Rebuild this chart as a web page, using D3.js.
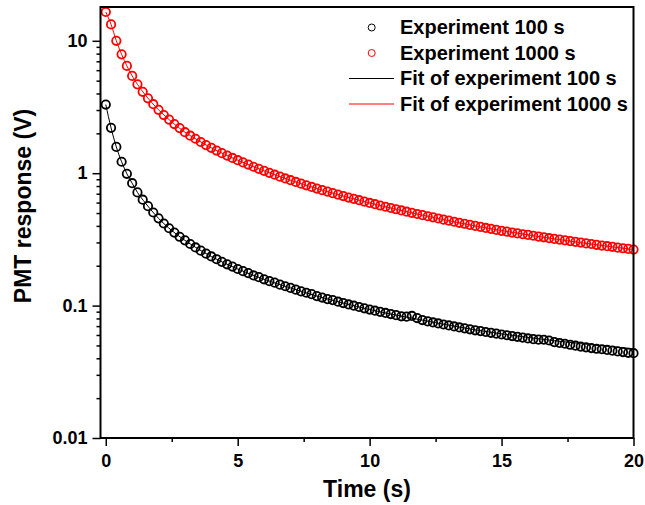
<!DOCTYPE html>
<html>
<head>
<meta charset="utf-8">
<script src="https://cdn.jsdelivr.net/npm/d3@7"></script>
<style>
  html, body { margin: 0; padding: 0; background: #fff; }
  svg text { font-family: "Liberation Sans", Arial, sans-serif; font-weight: bold; fill: #000; }
</style>
</head>
<body>
<svg id="chart" width="645" height="505"></svg>
<script>
// ---- data ----
const time = [
  0.0, 0.2, 0.4, 0.6, 0.8, 1.0, 1.2, 1.4, 1.6, 1.8,
  2.0, 2.2, 2.4, 2.6, 2.8, 3.0, 3.2, 3.4, 3.6, 3.8,
  4.0, 4.2, 4.4, 4.6, 4.8, 5.0, 5.2, 5.4, 5.6, 5.8,
  6.0, 6.2, 6.4, 6.6, 6.8, 7.0, 7.2, 7.4, 7.6, 7.8,
  8.0, 8.2, 8.4, 8.6, 8.8, 9.0, 9.2, 9.4, 9.6, 9.8,
  10.0, 10.2, 10.4, 10.6, 10.8, 11.0, 11.2, 11.4, 11.6, 11.8,
  12.0, 12.2, 12.4, 12.6, 12.8, 13.0, 13.2, 13.4, 13.6, 13.8,
  14.0, 14.2, 14.4, 14.6, 14.8, 15.0, 15.2, 15.4, 15.6, 15.8,
  16.0, 16.2, 16.4, 16.6, 16.8, 17.0, 17.2, 17.4, 17.6, 17.8,
  18.0, 18.2, 18.4, 18.6, 18.8, 19.0, 19.2, 19.4, 19.6, 19.8,
  20.0
];
const exp100 = [
  3.30, 2.20, 1.58, 1.22, 0.99, 0.84, 0.716, 0.631, 0.564, 0.505,
  0.456, 0.417, 0.384, 0.356, 0.331, 0.311, 0.292, 0.275, 0.260, 0.247,
  0.235, 0.224, 0.214, 0.205, 0.197, 0.189, 0.182, 0.176, 0.169, 0.164,
  0.158, 0.153, 0.149, 0.144, 0.140, 0.136, 0.132, 0.128, 0.125, 0.122,
  0.118, 0.115, 0.112, 0.110, 0.107, 0.1045, 0.102, 0.0998, 0.0976, 0.0954,
  0.0934, 0.0915, 0.0897, 0.0880, 0.0863, 0.0847, 0.0830, 0.0825, 0.0835, 0.0805,
  0.0778, 0.0760, 0.0746, 0.0733, 0.0720, 0.0708, 0.0696, 0.0684, 0.0673, 0.0662,
  0.0651, 0.0642, 0.0632, 0.0623, 0.0614, 0.0605, 0.0597, 0.0589, 0.0581, 0.0573,
  0.0565, 0.0558, 0.0553, 0.0552, 0.0545, 0.0530, 0.0522, 0.0515, 0.0506, 0.0498,
  0.0490, 0.0484, 0.0478, 0.0472, 0.0468, 0.0463, 0.0457, 0.0451, 0.0446, 0.0440,
  0.0437
];
const exp1000 = [
  16.5, 13.3, 10.0, 7.90, 6.46, 5.43, 4.69, 4.12, 3.68, 3.32,
  3.01, 2.75, 2.54, 2.35, 2.19, 2.04, 1.92, 1.82, 1.72, 1.63,
  1.555, 1.483, 1.417, 1.358, 1.304, 1.254, 1.207, 1.162, 1.119, 1.079,
  1.042, 1.007, 0.974, 0.942, 0.913, 0.885, 0.859, 0.834, 0.810, 0.787,
  0.766, 0.745, 0.726, 0.707, 0.689, 0.672, 0.655, 0.640, 0.625, 0.610,
  0.596, 0.583, 0.570, 0.558, 0.546, 0.534, 0.523, 0.512, 0.502, 0.492,
  0.482, 0.473, 0.464, 0.455, 0.446, 0.438, 0.430, 0.422, 0.415, 0.407,
  0.400, 0.393, 0.386, 0.380, 0.373, 0.367, 0.362, 0.356, 0.351, 0.346,
  0.342, 0.337, 0.332, 0.328, 0.323, 0.319, 0.315, 0.311, 0.307, 0.303,
  0.299, 0.295, 0.292, 0.288, 0.284, 0.281, 0.278, 0.274, 0.271, 0.268,
  0.265
];
const fitTime = [0, 0.2, 0.4, 0.6, 0.8, 1, 1.2, 1.5, 2, 2.5, 3, 3.5, 4, 5, 6, 7, 8, 9, 10, 12, 14, 16, 18, 20];
const fit100 = [3.30, 2.20, 1.58, 1.22, 0.99, 0.84, 0.716, 0.596, 0.456, 0.369, 0.311, 0.268, 0.235, 0.189, 0.158, 0.136, 0.118, 0.1045, 0.0934, 0.0776, 0.0656, 0.0575, 0.0516, 0.0472];
const fit1000 = [16.5, 13.3, 10.0, 7.90, 6.46, 5.43, 4.69, 3.90, 3.01, 2.44, 2.04, 1.77, 1.555, 1.254, 1.042, 0.885, 0.766, 0.672, 0.596, 0.482, 0.400, 0.342, 0.299, 0.265];

const xTicks = [0, 5, 10, 15, 20];
const xMinorTicks = [2.5, 7.5, 12.5, 17.5];
const yTicks = [0.01, 0.1, 1, 10];
const yTickLabels = ["0.01", "0.1", "1", "10"];
const yMinorTicks = [0.02,0.03,0.04,0.05,0.06,0.07,0.08,0.09,
                     0.2,0.3,0.4,0.5,0.6,0.7,0.8,0.9,
                     2,3,4,5,6,7,8,9];
const legendLabels = ["Experiment 100 s", "Experiment 1000 s", "Fit of experiment 100 s", "Fit of experiment 1000 s"];
const seriesColors = ["#000000", "#ff0000"];

// ---- layout ----
const L = 100.5, R = 633.5, T = 7, B = 438;
const svg = d3.select("#chart");

const x = d3.scaleLinear().domain([-0.2, 20]).range([L, R]);
const y = d3.scaleLog().domain([0.01, 18]).range([B, T]);

// data circles
const series = [exp100, exp1000];
series.forEach((vals, si) => {
  svg.append("g").selectAll("circle")
    .data(vals.map((v, i) => [time[i], v]))
    .join("circle")
    .attr("cx", d => x(d[0]))
    .attr("cy", d => y(d[1]))
    .attr("r", 4.2)
    .attr("fill", "none")
    .attr("stroke", seriesColors[si])
    .attr("stroke-width", 1.8);
});

// fit lines
const line = d3.line().x(d => x(d[0])).y(d => y(d[1])).curve(d3.curveMonotoneX);
[fit100, fit1000].forEach((vals, si) => {
  svg.append("path")
    .attr("d", line(vals.map((v, i) => [fitTime[i], v])))
    .attr("fill", "none")
    .attr("stroke", seriesColors[si])
    .attr("stroke-width", 1);
});

// axes
const xAxis = svg.append("g").attr("transform", `translate(0,${B})`)
  .call(d3.axisBottom(x).tickValues(xTicks).tickSize(8).tickPadding(8).tickFormat(d3.format("d")));
const xMinor = svg.append("g").attr("transform", `translate(0,${B})`)
  .call(d3.axisBottom(x).tickValues(xMinorTicks).tickSize(4).tickFormat(""));
const yAxis = svg.append("g").attr("transform", `translate(${L},0)`)
  .call(d3.axisLeft(y).tickValues(yTicks).tickSize(8).tickPadding(5)
        .tickFormat((d, i) => yTickLabels[i]));
const yMinor = svg.append("g").attr("transform", `translate(${L},0)`)
  .call(d3.axisLeft(y).tickValues(yMinorTicks).tickSize(4).tickFormat(""));

[xAxis, xMinor, yAxis, yMinor].forEach(g => {
  g.select(".domain").remove();
  g.selectAll("line").attr("stroke", "#000").attr("stroke-width", 1.5);
  g.selectAll("text").attr("font-size", 18).attr("font-family", "Liberation Sans, Arial, sans-serif")
    .attr("font-weight", "bold").attr("fill", "#000");
});

// frame
svg.append("rect").attr("x", L).attr("y", T).attr("width", R - L).attr("height", B - T)
  .attr("fill", "none").attr("stroke", "#000").attr("stroke-width", 2);

// axis titles
svg.append("text").attr("x", (L + R) / 2).attr("y", 497).attr("text-anchor", "middle")
  .attr("font-size", 23).text("Time (s)");
svg.append("text").attr("transform", `translate(31,206) rotate(-90)`).attr("text-anchor", "middle")
  .attr("font-size", 23).text("PMT response (V)");

// legend
const lg = svg.append("g");
const rowY = [27.5, 53, 78.5, 104];
legendLabels.forEach((lab, i) => {
  if (i < 2) {
    lg.append("circle").attr("cx", 371.7).attr("cy", rowY[i]).attr("r", 3.5)
      .attr("fill", "none").attr("stroke", seriesColors[i]).attr("stroke-width", 1);
  } else {
    lg.append("line").attr("x1", 349).attr("x2", 394).attr("y1", rowY[i]).attr("y2", rowY[i])
      .attr("stroke", seriesColors[i - 2]).attr("stroke-width", 1);
  }
  lg.append("text").attr("x", 400).attr("y", rowY[i] + 6.5).attr("font-size", 20).text(lab);
});
</script>
</body>
</html>
